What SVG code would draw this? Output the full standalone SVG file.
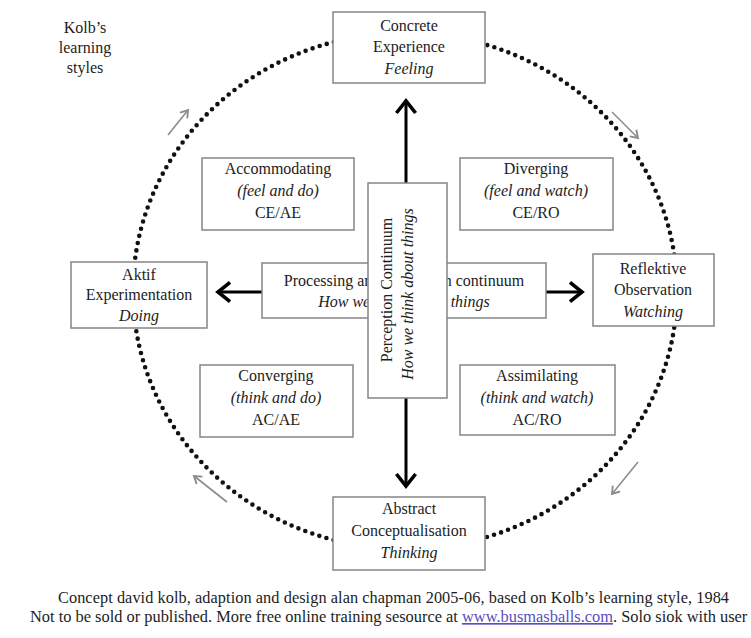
<svg xmlns="http://www.w3.org/2000/svg" width="751" height="638" viewBox="0 0 751 638">
<style>
  text { font-family: "Liberation Serif", "Times New Roman", serif; font-size: 16px; fill: #1c1c1c; }
  .c { text-anchor: middle; }
  .i { font-style: italic; }
  .box { fill: #ffffff; stroke: #858585; stroke-width: 1.5; }
  .ring { fill: none; stroke: #111111; stroke-width: 4.6; stroke-linecap: round; stroke-dasharray: 0 7.4; }
  .main { stroke: #000000; stroke-width: 3; fill: none; marker-end: url(#head); }
  .cyc { stroke: #8c8c8c; stroke-width: 1.6; fill: none; marker-end: url(#ghead); }
  .link { fill: #5a4cc4; text-decoration: underline; }
</style>
<defs>
  <marker id="head" markerUnits="userSpaceOnUse" markerWidth="24" markerHeight="24" viewBox="-14 -10 18 20" refX="0" refY="0" orient="auto">
    <path d="M -10 -8 L 0 0 L -10 8" fill="none" stroke="#000000" stroke-width="3" stroke-linejoin="miter"/>
  </marker>
  <marker id="ghead" markerUnits="userSpaceOnUse" markerWidth="14" markerHeight="14" viewBox="-8 -6 10 12" refX="0" refY="0" orient="auto">
    <path d="M -6 -4 L 0 0 L -6 4" fill="none" stroke="#8c8c8c" stroke-width="1.6"/>
  </marker>
</defs>
<rect x="0" y="0" width="751" height="638" fill="#ffffff"/>

<g id="title">
  <text class="c" x="85" y="33">Kolb’s</text>
  <text class="c" x="85" y="53">learning</text>
  <text class="c" x="85" y="73">styles</text>
</g>

<g id="cycle">
  <ellipse class="ring" cx="405" cy="291" rx="272" ry="258"/>
</g>

<g id="connectors">
  <line class="main" x1="406" y1="183" x2="406" y2="101"/>
  <line class="main" x1="406" y1="398" x2="406" y2="486"/>
  <line class="main" x1="262" y1="292" x2="218" y2="292"/>
  <line class="main" x1="546" y1="292" x2="582" y2="292"/>
  <line class="cyc" x1="168" y1="135" x2="188" y2="110"/>
  <line class="cyc" x1="612" y1="112" x2="638" y2="138"/>
  <line class="cyc" x1="638" y1="462" x2="612" y2="494"/>
  <line class="cyc" x1="227" y1="502" x2="194" y2="476"/>
</g>

<g id="concrete-experience">
  <rect class="box" x="333" y="12" width="152" height="71"/>
  <text class="c" x="409" y="31">Concrete</text>
  <text class="c" x="409" y="52">Experience</text>
  <text class="c i" x="409" y="74">Feeling</text>
</g>

<g id="accommodating">
  <rect class="box" x="202" y="158" width="152" height="72"/>
  <text class="c" x="278" y="174">Accommodating</text>
  <text class="c i" x="278" y="196">(feel and do)</text>
  <text class="c" x="278" y="218">CE/AE</text>
</g>

<g id="diverging">
  <rect class="box" x="460" y="158" width="153" height="72"/>
  <text class="c" x="536" y="174">Diverging</text>
  <text class="c i" x="536" y="196">(feel and watch)</text>
  <text class="c" x="536" y="218">CE/RO</text>
</g>

<g id="aktif-experimentation">
  <rect class="box" x="71" y="262" width="136" height="66"/>
  <text class="c" x="139" y="280">Aktif</text>
  <text class="c" x="139" y="300">Experimentation</text>
  <text class="c i" x="139" y="321">Doing</text>
</g>

<g id="reflektive-observation">
  <rect class="box" x="593" y="254" width="121" height="72"/>
  <text class="c" x="653" y="274">Reflektive</text>
  <text class="c" x="653" y="295">Observation</text>
  <text class="c i" x="653" y="317">Watching</text>
</g>

<g id="processing-continuum">
  <rect class="box" x="262" y="263" width="284" height="55"/>
  <text class="c" x="404" y="286">Processing and perception continuum</text>
  <text class="c i" x="404" y="307">How we think about things</text>
</g>

<g id="perception-continuum">
  <rect class="box" x="368" y="183" width="79" height="215"/>
  <text class="c" transform="translate(392 290) rotate(-90)">Perception Continuum</text>
  <text class="c i" transform="translate(413 294) rotate(-90)">How we think about things</text>
</g>

<g id="converging">
  <rect class="box" x="200" y="365" width="153" height="72"/>
  <text class="c" x="276" y="381">Converging</text>
  <text class="c i" x="276" y="403">(think and do)</text>
  <text class="c" x="276" y="425">AC/AE</text>
</g>

<g id="assimilating">
  <rect class="box" x="460" y="365" width="155" height="70"/>
  <text class="c" x="537" y="381">Assimilating</text>
  <text class="c i" x="537" y="403">(think and watch)</text>
  <text class="c" x="537" y="425">AC/RO</text>
</g>

<g id="abstract-conceptualisation">
  <rect class="box" x="333" y="497" width="152" height="73"/>
  <text class="c" x="409" y="514">Abstract</text>
  <text class="c" x="409" y="536">Conceptualisation</text>
  <text class="c i" x="409" y="558">Thinking</text>
</g>

<g id="footer">
  <text x="58" y="603" style="font-size:16.3px" textLength="671" lengthAdjust="spacing">Concept david kolb, adaption and design alan chapman 2005-06, based on Kolb’s learning style, 1984</text>
  <text x="30" y="622" style="font-size:16.4px">Not to be sold or published. More free online training sesource at <tspan class="link">www.busmasballs.com</tspan>. Solo siok with user</text>
</g>
</svg>
